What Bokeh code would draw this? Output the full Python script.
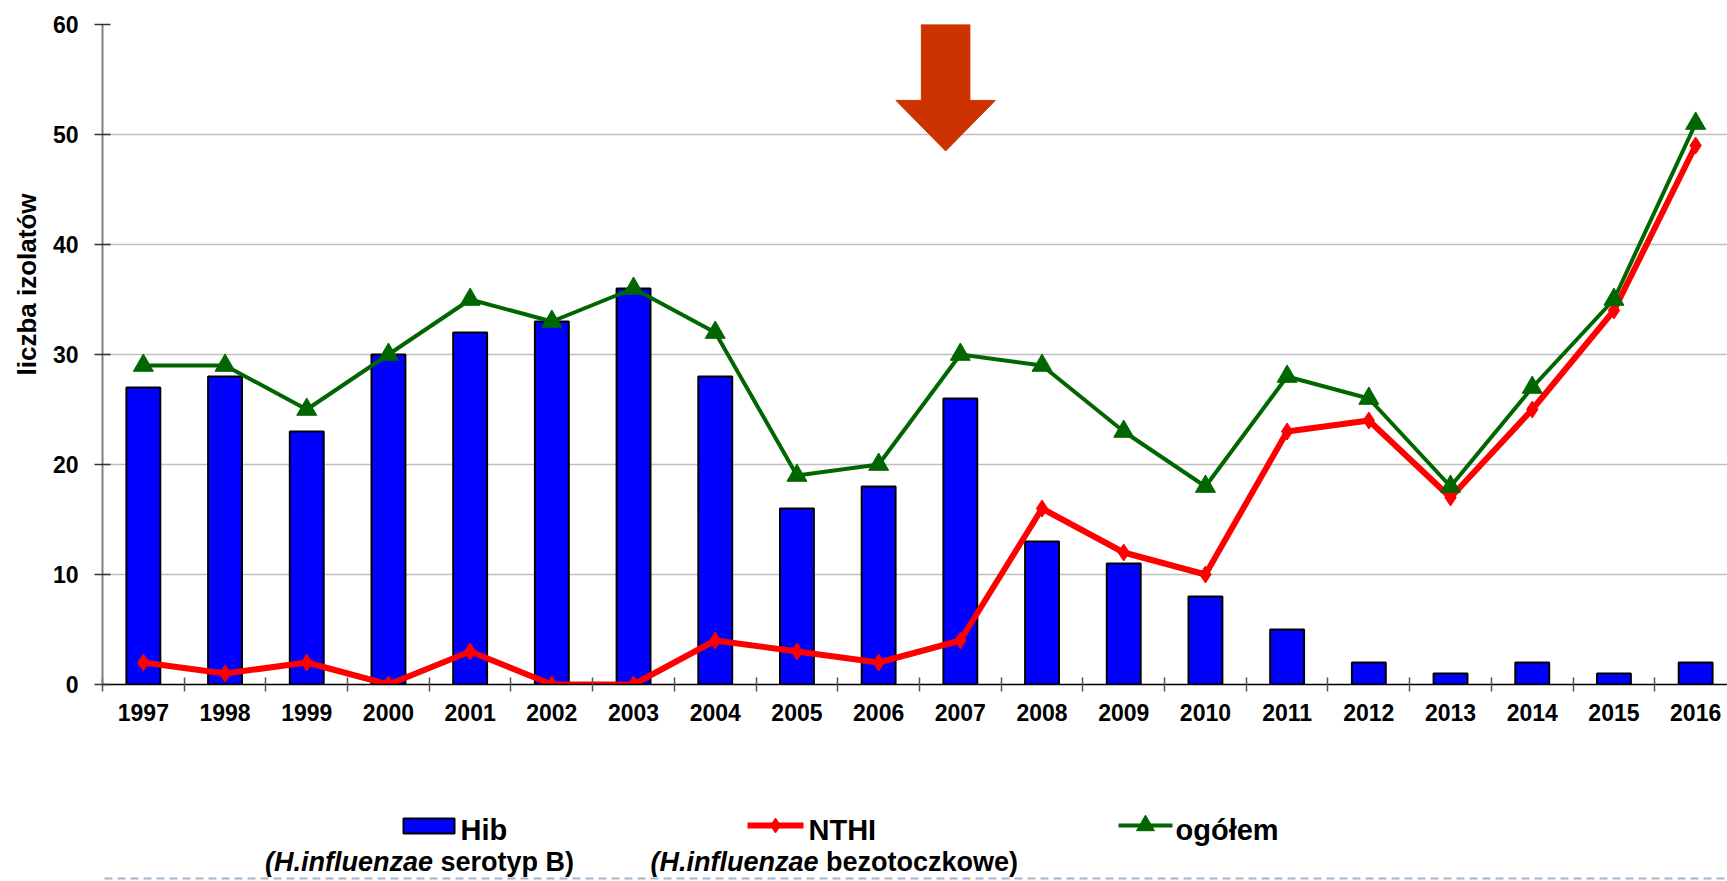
import math
from bokeh.plotting import figure
from bokeh.models import Range1d, FixedTicker, Title
from bokeh.layouts import column
from bokeh.embed import file_html
from bokeh.resources import INLINE
from bokeh.core.properties import value

# ---------------- data ----------------
years = ["1997", "1998", "1999", "2000", "2001", "2002", "2003", "2004", "2005", "2006",
         "2007", "2008", "2009", "2010", "2011", "2012", "2013", "2014", "2015", "2016"]
hib = [27, 28, 23, 30, 32, 33, 36, 28, 16, 18, 26, 13, 11, 8, 5, 2, 1, 2, 1, 2]
nthi = [2, 1, 2, 0, 3, 0, 0, 4, 3, 2, 4, 16, 12, 10, 23, 24, 17, 25, 34, 49]
total = [29, 29, 25, 30, 35, 33, 36, 32, 19, 20, 30, 29, 23, 18, 28, 26, 18, 27, 35, 51]
y_ticks = [0, 10, 20, 30, 40, 50, 60]
y_label = "liczba izolatów"
legend_labels = ["Hib", "NTHI", "ogółem"]
legend_notes_italic = ["(H.influenzae", "(H.influenzae"]
legend_notes_plain = ["serotyp B)", "bezotoczkowe)"]
arrow_year = "2007"

# ---------------- style ----------------
FONT = "Liberation Sans"
BLUE = "#0000FF"
RED = "#FF0000"
GREEN = "#006600"
ARROW = "#CC3300"
W = 1727
PH = 738
LH = 881 - PH
FRAME_LEFT = 102

idx = list(range(len(years)))

p = figure(width=W, height=PH, x_range=Range1d(-0.5, 19.39), y_range=Range1d(0, 60),
           output_backend="svg", toolbar_location=None,
           min_border_left=FRAME_LEFT, min_border_top=24, min_border_bottom=54, min_border_right=0)
p.outline_line_color = None
p.background_fill_color = "white"

# axes
p.xaxis.ticker = FixedTicker(ticks=idx, minor_ticks=[i - 0.5 for i in range(len(years) + 1)])
p.xaxis.major_label_overrides = {i: y for i, y in enumerate(years)}
p.xaxis.major_tick_line_color = None
p.xaxis.major_tick_in = 0
p.xaxis.major_tick_out = 0
p.xaxis.minor_tick_in = 7
p.xaxis.minor_tick_out = 7
p.xaxis.minor_tick_line_color = "#555555"
p.xaxis.minor_tick_line_width = 1.5
p.xaxis.axis_line_color = "black"
p.xaxis.axis_line_width = 1.5
p.xaxis.major_label_standoff = 12

p.yaxis.ticker = FixedTicker(ticks=y_ticks)
p.yaxis.minor_tick_line_color = None
p.yaxis.major_tick_in = 8
p.yaxis.major_tick_out = 8
p.yaxis.major_tick_line_color = "#333333"
p.yaxis.major_tick_line_width = 1.5
p.yaxis.axis_line_color = "#808080"
p.yaxis.axis_line_width = 2
p.yaxis.major_label_standoff = 16

for ax in (p.xaxis, p.yaxis):
    ax.major_label_text_font = FONT
    ax.major_label_text_font_size = "23px"
    ax.major_label_text_font_style = "bold"
    ax.major_label_text_color = "black"

p.xgrid.grid_line_color = None
p.ygrid.grid_line_color = "#c0c0c0"
p.ygrid.grid_line_width = 1.5

# y-axis title (placed higher than centre, as in the original)
p.add_layout(Title(text=y_label, align="left", offset=309, standoff=15,
                   vertical_align="bottom",
                   text_font=FONT, text_font_size="26px", text_font_style="bold",
                   text_color="black"), "left")

# bars
p.vbar(x=idx, top=hib, width=0.415, bottom=0, fill_color=BLUE, line_color="black", line_width=2)

# arrow marking vaccination introduction
ai = years.index(arrow_year) - 0.18
shaft_hw, head_hw = 0.297, 0.608
y_top, y_shaft, y_tip = 60, 53.1, 48.5
p.patch(x=[ai - shaft_hw, ai + shaft_hw, ai + shaft_hw, ai + head_hw, ai, ai - head_hw, ai - shaft_hw],
        y=[y_top, y_top, y_shaft, y_shaft, y_tip, y_shaft, y_shaft],
        fill_color=ARROW, line_color=ARROW, line_width=1)

# lines
p.line(idx, nthi, line_color=RED, line_width=6)
p.scatter(idx, nthi, marker="diamond", size=17, color=RED)
p.line(idx, total, line_color=GREEN, line_width=4)
p.scatter(idx, total, marker="triangle", size=20, color=GREEN)

# ---------------- legend area (coordinates = page pixels) ----------------
top_y = PH
p2 = figure(width=W, height=LH, x_range=Range1d(FRAME_LEFT, W), y_range=Range1d(top_y + LH, top_y),
            output_backend="svg", toolbar_location=None, x_axis_type=None, y_axis_type=None,
            min_border=0, min_border_left=FRAME_LEFT, min_border_right=0, min_border_top=0, min_border_bottom=0)
p2.outline_line_color = None
p2.xgrid.visible = False
p2.ygrid.visible = False

# swatches
p2.quad(left=[403], right=[454], top=[818], bottom=[833], fill_color=BLUE, line_color="black", line_width=2)
p2.line([747, 803], [825, 825], line_color=RED, line_width=6)
p2.scatter([775], [825], marker="diamond", size=15, color=RED)
p2.line([1118, 1172], [825, 825], line_color=GREEN, line_width=4)
p2.scatter([1145], [825], marker="triangle", size=18, color=GREEN)

p2.text(x=[460, 808, 1175], y=[829, 829, 829], text=legend_labels,
        text_font=value(FONT), text_font_size="29px", text_font_style="bold",
        text_baseline="alphabetic", text_align="left", text_color="black")

p2.text(x=[432.5, 818], y=[861, 861], text=legend_notes_italic,
        text_font=value(FONT), text_font_size="27px", text_font_style="bold italic",
        text_baseline="alphabetic", text_align="right", text_color="black")
p2.text(x=[440, 825.5], y=[861, 861], text=legend_notes_plain,
        text_font=value(FONT), text_font_size="27px", text_font_style="bold",
        text_baseline="alphabetic", text_align="left", text_color="black")

# dashed separator
p2.line([0, W], [878, 878], line_color="#9fb6cd", line_width=2, line_dash="8 5")

layout = column(p, p2)
open("out.html", "w").write(file_html(layout, INLINE))
